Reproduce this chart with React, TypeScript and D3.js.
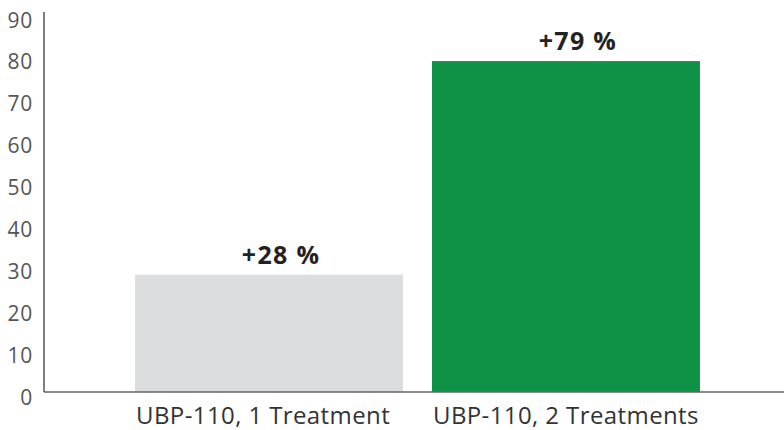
import React from "react";
import * as d3 from "d3";

const categories = ["UBP-110, 1 Treatment", "UBP-110, 2 Treatments"];
const values = [28, 79];
const valueLabels = ["+28 %", "+79 %"];
const colors = ["#dcdddf", "#0f9245"];
const yTicks = [0, 10, 20, 30, 40, 50, 60, 70, 80, 90];

const W = 784;
const H = 430;
const FONT = "'Open Sans', Lato, sans-serif";

export default function App() {
  const axisX = 44;
  const baseY = 392;
  const y = d3.scaleLinear().domain([0, 90]).range([baseY, 15]);
  const x = d3
    .scaleBand<string>()
    .domain(categories)
    .range([51, 784])
    .paddingInner(0.0976)
    .paddingOuter(0.283);

  return (
    <svg
      width={W}
      height={H}
      style={{ position: "absolute", left: 0, top: 0, background: "#fff" }}
    >
      {categories.map((c, i) => (
        <g key={c}>
          <rect
            x={x(c)}
            y={y(values[i])}
            width={x.bandwidth()}
            height={baseY - y(values[i])}
            fill={colors[i]}
          />
          <text
            x={(x(c) as number) + x.bandwidth() / 2 + 12}
            y={y(values[i]) - 11}
            textAnchor="middle"
            fontFamily={FONT}
            fontWeight={700}
            fontSize={25}
            letterSpacing={1.3}
            fill="#222"
          >
            {valueLabels[i]}
          </text>
          <text
            x={(x(c) as number) + 1}
            y={424}
            textAnchor="start"
            fontFamily={FONT}
            fontSize={24}
            letterSpacing={0.4}
            fill="#333"
          >
            {c}
          </text>
        </g>
      ))}
      {yTicks.map((t) => (
        <text
          key={t}
          x={33}
          y={y(t) + 5}
          dy="0.36em"
          textAnchor="end"
          fontFamily={FONT}
          fontSize={21}
          letterSpacing={0.8}
          fill="#555"
        >
          {t}
        </text>
      ))}
      <line x1={axisX} x2={axisX} y1={12} y2={baseY} stroke="#555" strokeWidth={1.5} />
      <line x1={axisX} x2={W} y1={baseY} y2={baseY} stroke="#666" strokeWidth={1.5} />
    </svg>
  );
}
